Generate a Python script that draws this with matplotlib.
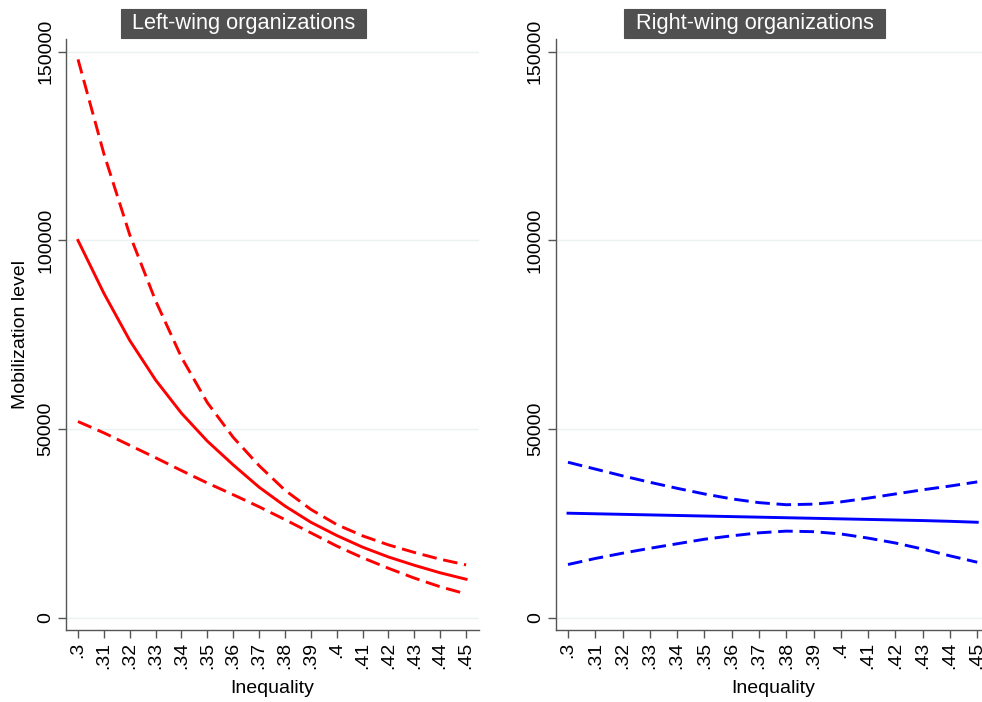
import matplotlib
matplotlib.use('Agg')
import matplotlib.pyplot as plt
from matplotlib.patches import Rectangle

plt.rcParams['font.family'] = ['Liberation Sans', 'DejaVu Sans']

inequality = [.30, .31, .32, .33, .34, .35, .36, .37, .38, .39, .40, .41, .42, .43, .44, .45]
x_labels = ['.3', '.31', '.32', '.33', '.34', '.35', '.36', '.37', '.38', '.39',
            '.4', '.41', '.42', '.43', '.44', '.45']

left_est = [100000, 86000, 73500, 63000, 54200, 46800, 40500, 34600, 29600, 25300,
            21800, 18700, 16100, 13900, 11900, 10200]
left_hi = [148000, 123000, 101500, 84000, 69000, 57000, 47800, 40300, 33800, 28700,
           24700, 21700, 19300, 17300, 15500, 14000]
left_lo = [52000, 49000, 45700, 42400, 39000, 35700, 32600, 29400, 26000, 22500,
           19000, 15900, 13100, 10500, 8200, 6300]

right_est = [27700, 27550, 27400, 27250, 27100, 26950, 26800, 26650, 26500, 26350,
             26200, 26050, 25900, 25750, 25550, 25300]
right_hi = [41200, 39400, 37600, 35900, 34300, 32800, 31500, 30500, 29950, 30100,
            30700, 31700, 32800, 33900, 34900, 36000]
right_lo = [14100, 15700, 17100, 18400, 19600, 20800, 21700, 22500, 22950, 22800,
            22200, 21100, 19800, 18200, 16400, 14700]

y_ticks = [0, 50000, 100000, 150000]
titles = ['Left-wing organizations', 'Right-wing organizations']

W, H = 982, 702
fig = plt.figure(figsize=(W / 100, H / 100), dpi=100)


def px_axes(x0, x1, y0, y1):
    return fig.add_axes([x0 / W, 1 - y1 / H, (x1 - x0) / W, (y1 - y0) / H])


def style_axes(ax, xlim):
    ax.set_xlim(*xlim)
    ax.set_ylim(-3260, 153400)
    for side in ['top', 'right']:
        ax.spines[side].set_visible(False)
    for side in ['left', 'bottom']:
        ax.spines[side].set_color('#555555')
        ax.spines[side].set_linewidth(1.0)
    ax.set_yticks(y_ticks)
    ax.set_yticklabels([str(v) for v in y_ticks], rotation=90, va='center', fontsize=14)
    ax.set_xticks(inequality)
    ax.set_xticklabels(x_labels, rotation=90, fontsize=14)
    ax.tick_params(axis='both', length=5.5, width=1.0, color='#555555', pad=3)
    ax.grid(axis='y', color='#eaf2f3', linewidth=1.0)
    ax.set_axisbelow(True)
    ax.set_xlabel('Inequality', fontsize=14, labelpad=8)


def title_box(x0, x1, y0, y1, text):
    fig.add_artist(Rectangle((x0 / W, 1 - y1 / H), (x1 - x0) / W, (y1 - y0) / H,
                             transform=fig.transFigure, facecolor='#505050',
                             edgecolor='#505050', lw=0.8))
    fig.text((x0 + x1) / 2 / W, 1 - (y0 + y1) / 2 / H, text, color='white',
             fontsize=15.7, ha='center', va='center')


ax1 = px_axes(66, 479, 39, 630)
ax2 = px_axes(555.7, 991, 39, 630)

dash = (0, (5.0, 2.3))
lw = 2.1
ax1.plot(inequality, left_hi, color='#ff0000', lw=lw, linestyle=dash)
ax1.plot(inequality, left_est, color='#ff0000', lw=lw)
ax1.plot(inequality, left_lo, color='#ff0000', lw=lw, linestyle=dash)

ax2.plot(inequality, right_hi, color='#0000ff', lw=lw, linestyle=dash)
ax2.plot(inequality, right_est, color='#0000ff', lw=lw)
ax2.plot(inequality, right_lo, color='#0000ff', lw=lw, linestyle=dash)

style_axes(ax1, (.29536, .4550))
style_axes(ax2, (.29549, .45504))
ax1.set_ylabel('Mobilization level', fontsize=14, labelpad=6)

title_box(121, 366, 8.5, 38, titles[0])
title_box(624, 885, 8.5, 38, titles[1])

fig.savefig('out.png', dpi=100, facecolor='white')
